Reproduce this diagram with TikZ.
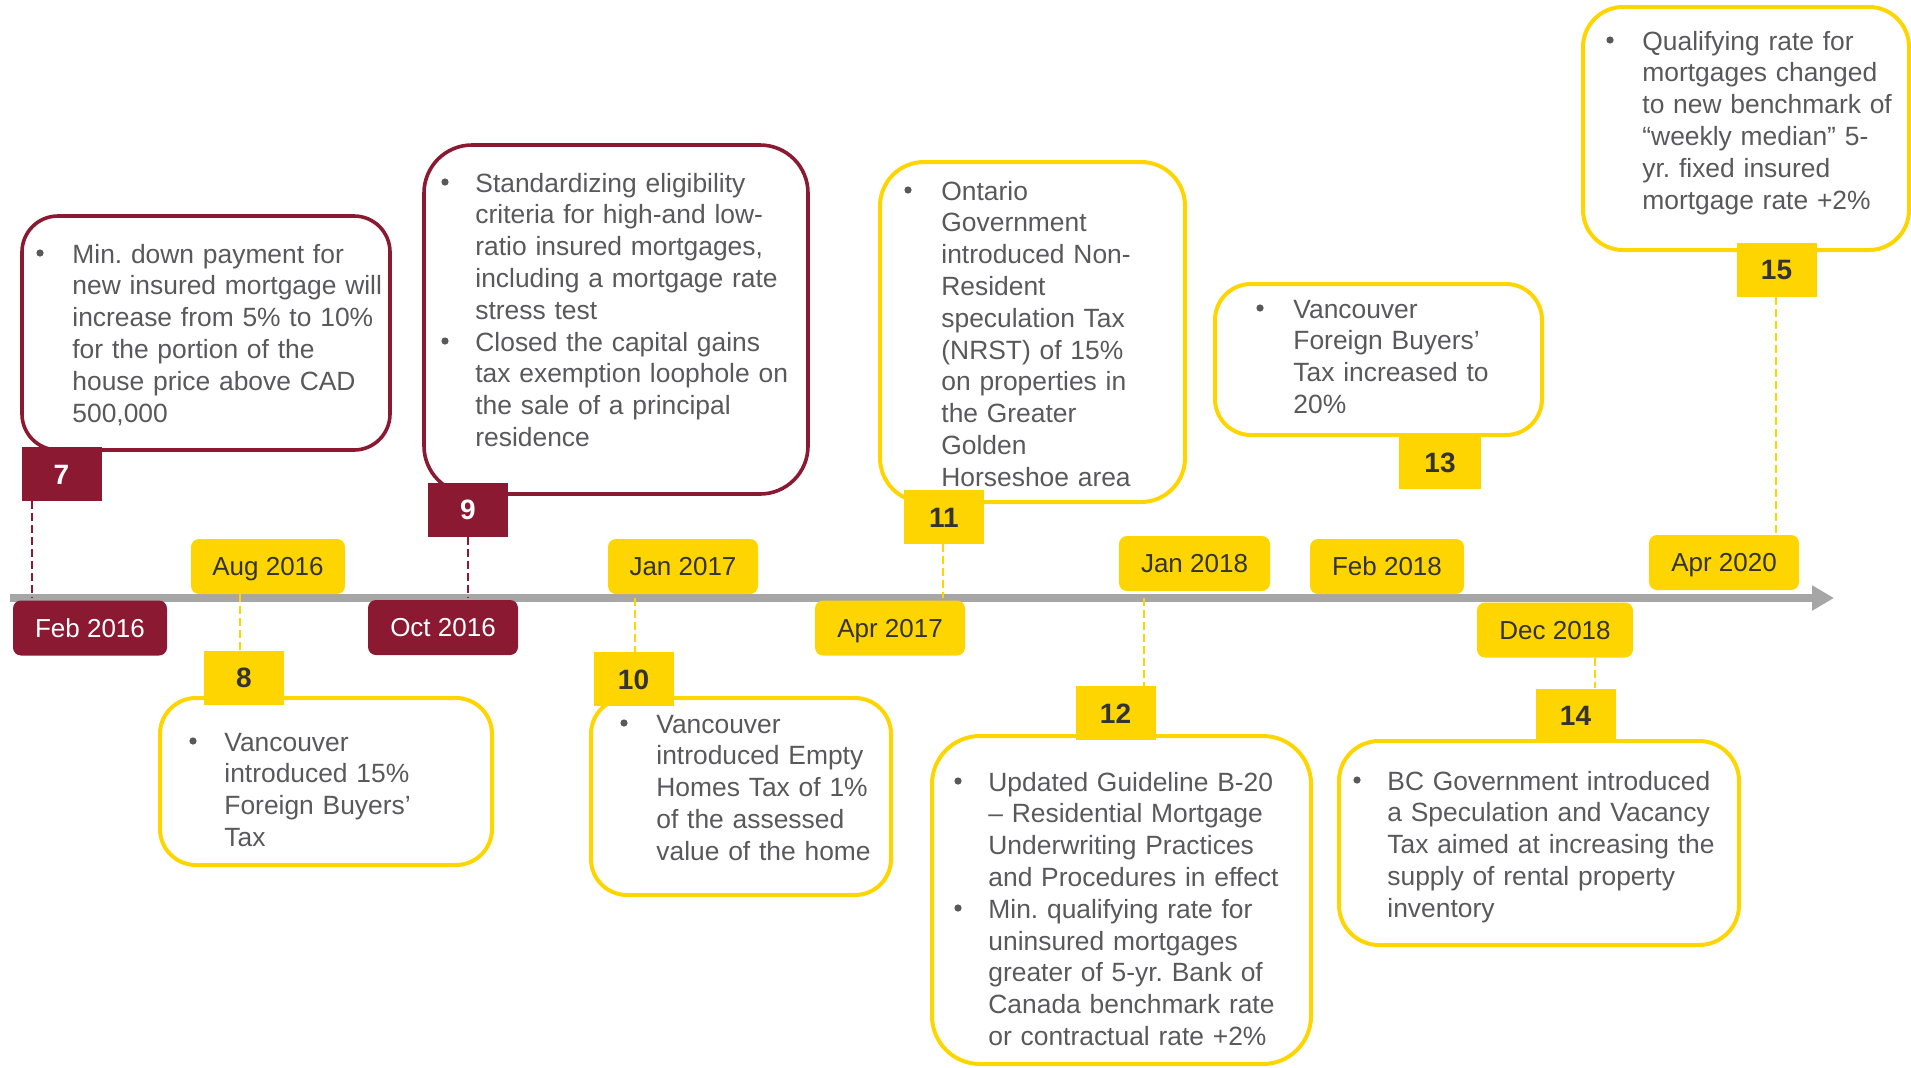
\documentclass[tikz,border=0pt]{standalone}
\usepackage{fontspec}
\setmainfont{Liberation Sans}
\usetikzlibrary{fit,arrows.meta}
\definecolor{mred}{RGB}{139,25,50}
\definecolor{myel}{RGB}{255,213,0}
\definecolor{axgray}{RGB}{166,166,166}
\definecolor{txtgray}{RGB}{89,89,91}
\definecolor{darktxt}{RGB}{51,51,51}
\frenchspacing
\begin{document}
\begin{tikzpicture}[x=0.5pt,y=-0.5pt,
  redbox/.style={draw=mred, line width=1.8pt, rounded corners=18pt, fill=white, inner sep=0pt},
  yelbox/.style={draw=myel, line width=2pt, rounded corners=18pt, fill=white, inner sep=0pt},
  numfont/.style={font=\fontsize{14}{16}\selectfont\bfseries, text height=10pt, text depth=0pt},
  tagsize/.style={minimum width=40pt, minimum height=27pt, inner sep=0pt},
  redtag/.style={fill=mred, text=white, numfont, tagsize},
  yeltag/.style={fill=myel, text=darktxt, numfont, tagsize},
  datefont/.style={font=\fontsize{13}{15}\selectfont, text height=9.3pt, text depth=0pt},
  datesize/.style={minimum width=77pt, minimum height=27.5pt, inner sep=0pt, rounded corners=4pt},
  reddate/.style={fill=mred, text=white, datefont, datesize},
  yeldate/.style={fill=myel, text=darktxt, datefont, datesize},
  bodytxt/.style={anchor=base west, inner sep=0pt, text=txtgray, text width=200pt, align=left,
    font=\fontsize{13.2}{15.9}\selectfont},
  dot/.style={circle, fill=txtgray, inner sep=0pt, minimum size=3.6pt},
  reddash/.style={draw=mred, line width=1pt, dash pattern=on 4pt off 2pt},
  yeldash/.style={draw=myel, line width=1pt, dash pattern=on 4pt off 2pt},
]
\useasboundingbox (0,0) rectangle (1911,1067);

% time axis
\coordinate (axs) at (10,598);
\coordinate (axe) at (1834,598);
\draw[axgray, line width=4pt, -{Triangle[length=11pt,width=12pt]}] (axs) -- (axe);

% event boxes
\node[redbox, fit={(22,216) (390,450)}] (box7) {};
\node[redbox, rounded corners=24pt, fit={(424,145) (808,494)}] (box9) {};
\node[yelbox, rounded corners=22pt, fit={(880,162) (1185,502)}] (box11) {};
\node[yelbox, fit={(1215,284) (1542,435)}] (box13) {};
\node[yelbox, rounded corners=20pt, fit={(1583,7) (1909,250)}] (box15) {};
\node[yelbox, fit={(160,698) (492,865)}] (box8) {};
\node[yelbox, fit={(591,698) (891,895)}] (box10) {};
\node[yelbox, rounded corners=24pt, fit={(932,736) (1311,1064)}] (box12) {};
\node[yelbox, rounded corners=20pt, fit={(1339,741) (1739,945)}] (box14) {};

% box texts
\node[dot] (b7) at (40,253) {};
\node[bodytxt] (t7) at (72,263) {Min. down payment for\\new insured mortgage will\\increase from 5\% to 10\%\\for the portion of the\\house price above CAD\\500,000};

\node[dot] (b9a) at (445,182) {};
\node[dot] (b9b) at (445,341) {};
\node[bodytxt] (t9) at (475,192) {Standardizing eligibility\\criteria for high-and low-\\ratio insured mortgages,\\including a mortgage rate\\stress test\\Closed the capital gains\\tax exemption loophole on\\the sale of a principal\\residence};

\node[dot] (b11) at (908,190) {};
\node[bodytxt] (t11) at (941,200) {Ontario\\Government\\introduced Non-\\Resident\\speculation Tax\\(NRST) of 15\%\\on properties in\\the Greater\\Golden\\Horseshoe area};

\node[dot] (b13) at (1260,308) {};
\node[bodytxt] (t13) at (1293,318) {Vancouver\\Foreign Buyers’\\Tax increased to\\20\%};

\node[dot] (b15) at (1610,40) {};
\node[bodytxt] (t15) at (1642,50) {Qualifying rate for\\mortgages changed\\to new benchmark of\\“weekly median” 5-\\yr. fixed insured\\mortgage rate +2\%};

\node[dot] (b8) at (193,741) {};
\node[bodytxt] (t8) at (224,751) {Vancouver\\introduced 15\%\\Foreign Buyers’\\Tax};

\node[dot] (b10) at (624,723) {};
\node[bodytxt] (t10) at (656,733) {Vancouver\\introduced Empty\\Homes Tax of 1\%\\of the assessed\\value of the home};

\node[dot] (b12a) at (958,781) {};
\node[dot] (b12b) at (958,908) {};
\node[bodytxt] (t12) at (988,791) {Updated Guideline B-20\\– Residential Mortgage\\Underwriting Practices\\and Procedures in effect\\Min. qualifying rate for\\uninsured mortgages\\greater of 5-yr. Bank of\\Canada benchmark rate\\or contractual rate +2\%};

\node[dot] (b14) at (1357,780) {};
\node[bodytxt] (t14) at (1387,790) {BC Government introduced\\a Speculation and Vacancy\\Tax aimed at increasing the\\supply of rental property\\inventory};

% date labels on the axis
\node[reddate] (feb16) at (90,628) {Feb 2016};
\node[yeldate] (aug16) at (268,566.5) {Aug 2016};
\node[reddate, minimum width=75pt] (oct16) at (443,627.5) {Oct 2016};
\node[yeldate, minimum width=75pt] (jan17) at (683,566.5) {Jan 2017};
\node[yeldate, minimum width=75pt] (apr17) at (890,628) {Apr 2017};
\node[yeldate, minimum width=75.5pt] (jan18) at (1194.5,563.5) {Jan 2018};
\node[yeldate] (feb18) at (1387,566.5) {Feb 2018};
\node[yeldate, minimum width=78pt] (dec18) at (1555,630) {Dec 2018};
\node[yeldate, minimum width=75pt] (apr20) at (1724,562.5) {Apr 2020};

% numbered tags
\node[redtag] (tag7) at (61.5,474) {7};
\node[yeltag] (tag8) at (244,677.5) {8};
\node[redtag] (tag9) at (468,509.5) {9};
\node[yeltag] (tag10) at (633.5,679) {10};
\node[yeltag] (tag11) at (944,517) {11};
\node[yeltag] (tag12) at (1115.5,713) {12};
\node[yeltag, minimum width=41pt] (tag13) at (1440,462) {13};
\node[yeltag] (tag14) at (1575.5,715.5) {14};
\node[yeltag] (tag15) at (1776.5,269.5) {15};

% dashed leaders
\coordinate (d7) at (32,598);
\coordinate (d9) at (468,598);
\coordinate (d8) at (240,598);
\coordinate (d10) at (635,598);
\coordinate (d11) at (943,598);
\coordinate (d12) at (1144,598);
\coordinate (d14) at (1595,598);
\coordinate (d15) at (1776,598);
\draw[reddash] (d7 |- tag7.south) -- (d7);
\draw[reddash] (d9 |- tag9.south) -- (d9);
\draw[yeldash] (d8 |- aug16.south) -- (d8 |- tag8.north);
\draw[yeldash] (d10) -- (d10 |- tag10.north);
\draw[yeldash] (d11 |- tag11.south) -- (d11);
\draw[yeldash] (d12) -- (d12 |- tag12.north);
\draw[yeldash] (d14 |- dec18.south) -- (d14 |- tag14.north);
\draw[yeldash] (d15 |- tag15.south) -- (d15 |- apr20.north);
\end{tikzpicture}
\end{document}
